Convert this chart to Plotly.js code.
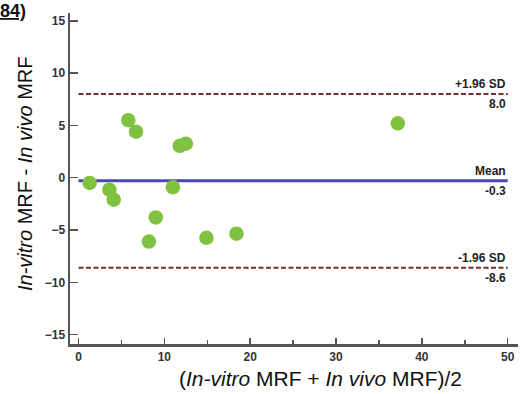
<!DOCTYPE html>
<html>
<head>
<meta charset="utf-8">
<script src="https://cdn.plot.ly/plotly-3.0.1.min.js"></script>
<style>html,body{margin:0;padding:0;background:#fff;}#chart{width:528px;height:394px;}</style>
</head>
<body>
<div id="chart"></div>
<script>
// Data (Bland-Altman plot)
const meanMRF = [1.3, 3.6, 4.1, 5.8, 6.7, 8.2, 9.0, 11.0, 11.8, 12.5, 14.9, 18.4, 37.2];
const diffMRF = [-0.5, -1.15, -2.1, 5.5, 4.4, -6.1, -3.8, -0.9, 3.05, 3.25, -5.75, -5.35, 5.2];
const biasMean = -0.3;
const upperLoA = 8.0;
const lowerLoA = -8.6;
const lineSpan = [0, 50];
const lineLabels = ["+1.96 SD", "Mean", "-1.96 SD"];
const lineValues = [upperLoA, biasMean, lowerLoA];
const lineValueText = ["8.0", "-0.3", "-8.6"];
const xTicks = [0, 10, 20, 30, 40, 50];
const yTicks = [-15, -10, -5, 0, 5, 10, 15];

const dashColor = '#7a2c2c';
const meanColor = '#4a48b0';
const dotColor = '#7fc23f';
const fam = 'Liberation Sans, Arial, sans-serif';

const traces = [
  {x: lineSpan, y: [upperLoA, upperLoA], mode: 'lines', line: {color: dashColor, width: 2, dash: '5px,2.5px'}, hoverinfo: 'skip'},
  {x: lineSpan, y: [lowerLoA, lowerLoA], mode: 'lines', line: {color: dashColor, width: 2, dash: '5px,2.5px'}, hoverinfo: 'skip'},
  {x: lineSpan, y: [biasMean, biasMean], mode: 'lines', line: {color: meanColor, width: 3}, hoverinfo: 'skip'},
  {x: meanMRF, y: diffMRF, mode: 'markers', marker: {color: dotColor, size: 14.5}}
];

const labelFont = {family: fam, size: 12, color: '#222'};
const annotations = [];
lineValues.forEach((v, i) => {
  annotations.push({x: lineSpan[1], y: v, xref: 'x', yref: 'y', text: '<b>' + lineLabels[i] + '</b>', showarrow: false, xanchor: 'right', yanchor: 'bottom', yshift: 1, font: labelFont});
  annotations.push({x: lineSpan[1], y: v, xref: 'x', yref: 'y', text: '<b>' + lineValueText[i] + '</b>', showarrow: false, xanchor: 'right', yanchor: 'top', yshift: -1, font: labelFont});
});
// panel label at top-left corner
annotations.push({x: 0, y: 1, xref: 'paper', yref: 'paper', xanchor: 'left', yanchor: 'bottom', xshift: -72, yshift: -10, text: '<b><u>84)</u></b>', showarrow: false, font: {family: fam, size: 18, color: '#111'}});
// axis titles placed as in the reference
annotations.push({xref: 'paper', yref: 'paper', x: (320 - 70) / 448, y: -(378 - 344) / 331, xanchor: 'center', yanchor: 'middle', showarrow: false,
  text: '(<i>In-vitro</i> MRF + <i>In vivo</i> MRF)/2', font: {family: fam, size: 21, color: '#111'}});
annotations.push({xref: 'paper', yref: 'paper', x: -(70 - 25) / 448, y: (344 - 174) / 331, xanchor: 'center', yanchor: 'middle', showarrow: false, textangle: -90,
  text: '<i>In-vitro</i> MRF - <i>In vivo</i> MRF', font: {family: fam, size: 20, color: '#111'}});

const layout = {
  width: 528, height: 394,
  margin: {l: 70, r: 10, t: 13, b: 50},
  paper_bgcolor: '#fff', plot_bgcolor: '#fff',
  showlegend: false,
  xaxis: {
    range: [-0.99, 51.2], tickvals: xTicks, ticks: 'inside', ticklen: 6, tickwidth: 1.5, tickcolor: '#555',
    minor: {ticks: 'inside', dtick: 5, tick0: 0, ticklen: 4, tickwidth: 1.5, tickcolor: '#555'},
    showgrid: false, zeroline: false, showline: true, linecolor: '#555', linewidth: 2.5,
    tickfont: {family: fam, size: 12, color: '#333', weight: 'bold'}
  },
  yaxis: {
    range: [-15.9, 15.75], tickvals: yTicks, ticks: 'inside', ticklen: 8, tickwidth: 1.5, tickcolor: '#555',
    showgrid: false, zeroline: false, showline: true, linecolor: '#555', linewidth: 2.5,
    tickfont: {family: fam, size: 12, color: '#333', weight: 'bold'}
  },
  annotations: annotations
};

Plotly.newPlot('chart', traces, layout, {staticPlot: true, displayModeBar: false});
</script>
</body>
</html>
